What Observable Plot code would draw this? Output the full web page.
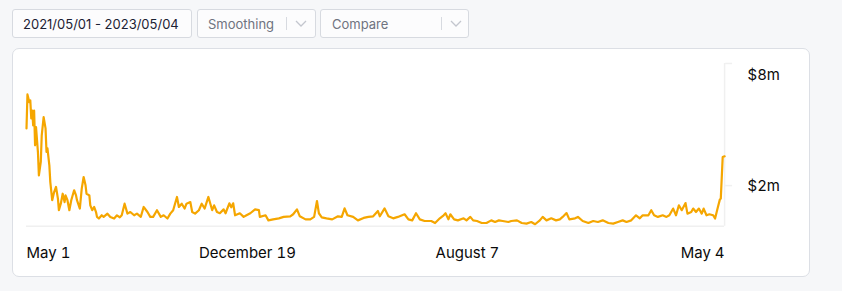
<!DOCTYPE html>
<html>
<head>
<meta charset="utf-8">
<script src="https://cdn.jsdelivr.net/npm/d3@7"></script>
<script src="https://cdn.jsdelivr.net/npm/@observablehq/plot@0.6"></script>
<style>
  html, body { margin: 0; padding: 0; background: #f6f7f9; width: 842px; height: 291px; overflow: hidden;
    font-family: Inter, "Open Sans", sans-serif; }
  .ctl { position: absolute; top: 9px; height: 29px; box-sizing: border-box; border: 1px solid #d7dae0;
    border-radius: 3px; background: #fcfcfd; font-size: 13px; }
  .ctl span.t { position: absolute; top: 50%; transform: translateY(-50%); white-space: nowrap; }
  .sep { position: absolute; top: 7px; width: 1px; height: 13px; background: #d7dae0; }
  .chev { position: absolute; top: 9px; }
  #card { position: absolute; left: 12px; top: 48px; width: 798px; height: 229px; box-sizing: border-box;
    border: 1px solid #dcdfe5; border-radius: 7px; background: #fff; }
  #chart { position: absolute; left: -1px; top: -1px; }
</style>
</head>
<body>
<div class="ctl" style="left:12px;width:180px;"><span class="t" style="left:10px;color:#1b2133;">2021/05/01 - 2023/05/04</span></div>
<div class="ctl" style="left:197px;width:119px;"><span class="t" style="left:10px;color:#6f7380;">Smoothing</span>
  <div class="sep" style="left:88px;"></div>
  <svg class="chev" style="left:97px" width="12" height="9"><polyline points="1,2 6,7 11,2" fill="none" stroke="#c3c6ce" stroke-width="1.3"/></svg>
</div>
<div class="ctl" style="left:320px;width:149px;"><span class="t" style="left:11px;color:#6f7380;">Compare</span>
  <div class="sep" style="left:120px;"></div>
  <svg class="chev" style="left:129px" width="12" height="9"><polyline points="1,2 6,7 11,2" fill="none" stroke="#c3c6ce" stroke-width="1.3"/></svg>
</div>
<div id="card"><div id="chart"></div></div>
<script>
// Series: day offset from start date, and daily revenue in $ millions
const startDate = "2021-05-01";
const dayOffsets = [0,1,3,4,5,6,7,8,9,10,12,13,15,16,18,20,21,22,24,25,27,29,31,33,34,36,38,40,41,43,45,47,50,52,53,56,58,60,62,63,66,67,69,71,73,74,76,79,81,85,88,92,95,98,100,103,106,109,113,116,120,123,127,130,133,137,141,144,148,151,154,158,160,163,166,168,172,174,177,181,184,187,191,195,197,200,203,207,209,213,215,217,219,224,228,231,235,240,244,245,251,254,259,265,270,277,280,284,287,293,298,302,305,307,310,315,321,327,331,334,337,343,348,354,359,364,369,371,376,380,385,390,397,401,405,409,413,418,425,429,434,438,440,443,445,449,453,459,462,466,469,473,478,483,488,492,496,500,506,509,515,520,525,530,534,539,542,546,551,556,560,563,567,570,576,579,584,590,595,600,605,611,616,621,626,630,635,640,644,647,653,656,659,663,668,672,675,679,682,685,688,692,694,698,700,703,706,709,711,714,717,721,723,726,728,729,731,733];
const revenue = [4.81,6.48,6.10,6.18,5.30,5.69,4.96,5.69,3.98,4.87,3.65,2.50,3.16,4.47,5.36,4.81,3.65,3.83,2.99,2.17,1.28,1.68,1.93,1.36,0.79,1.11,1.60,1.19,1.52,1.28,0.79,1.28,1.77,1.52,1.28,0.87,1.85,2.42,2.01,1.60,1.52,1.03,0.79,0.95,0.70,0.46,0.38,0.54,0.46,0.62,0.46,0.38,0.54,0.44,0.54,1.11,0.62,0.70,0.54,0.62,0.46,0.95,0.70,0.46,0.46,0.79,0.46,0.54,0.38,0.62,0.79,1.44,0.95,1.11,0.87,1.11,1.19,0.70,0.62,0.79,1.11,0.87,1.44,0.79,1.03,0.70,0.64,0.83,0.64,1.13,0.93,1.13,0.54,0.64,0.46,0.54,0.64,0.83,0.79,0.46,0.54,0.29,0.34,0.39,0.46,0.49,0.59,0.83,0.49,0.34,0.34,0.46,1.24,0.64,0.44,0.39,0.34,0.49,0.46,0.88,0.54,0.46,0.29,0.41,0.46,0.49,0.75,0.49,0.88,0.49,0.39,0.46,0.59,0.34,0.29,0.64,0.34,0.26,0.26,0.16,0.39,0.54,0.64,0.34,0.59,0.34,0.29,0.39,0.29,0.46,0.29,0.26,0.16,0.16,0.29,0.21,0.29,0.26,0.21,0.26,0.29,0.16,0.13,0.21,0.10,0.29,0.46,0.29,0.39,0.29,0.34,0.46,0.65,0.34,0.39,0.46,0.26,0.16,0.26,0.21,0.29,0.16,0.13,0.21,0.29,0.21,0.29,0.54,0.39,0.54,0.54,0.79,0.54,0.46,0.54,0.46,0.54,0.87,0.54,1.03,0.79,1.14,0.62,0.70,0.87,0.70,0.87,0.62,0.87,0.54,0.59,0.54,0.38,0.95,1.31,1.36,3.40,3.44];

const xTickDates = ["2021-05-01", "2021-12-19", "2022-08-07", "2023-05-04"];
const xTickLabels = ["May 1", "December 19", "August 7", "May 4"];
const yTicks = [2, 8];
const yDomain = [0, 8];

const day = 864e5;
const start = new Date(startDate + "T00:00:00Z");
const data = dayOffsets.map((d, i) => ({date: new Date(+start + d * day), value: revenue[i]}));
const tDates = xTickDates.map(s => new Date(s + "T00:00:00Z"));
const labelOf = new Map(tDates.map((d, i) => [+d, xTickLabels[i]]));
const fmtX = d => labelOf.get(+d);
const fmtY = d => "$" + d + "m";
const grey = "#f0f0f0";

const chart = Plot.plot({
  width: 798,
  height: 229,
  marginLeft: 14,
  marginRight: 85,
  marginTop: 15,
  marginBottom: 51,
  style: {fontFamily: "Inter, 'Open Sans', sans-serif", fontSize: "15px", color: "#0b0b0b", background: "transparent", overflow: "visible"},
  x: {type: "utc", domain: [tDates[0], tDates[3]], label: null},
  y: {domain: yDomain, label: null},
  marks: [
    Plot.ruleY([yDomain[0]], {stroke: grey, strokeWidth: 1.5}),
    Plot.ruleX([tDates[3]], {stroke: grey, strokeWidth: 1.5}),
    Plot.axisX([tDates[0]], {tickSize: 0, tickPadding: 21, textAnchor: "start", tickFormat: fmtX, label: null, fontSize: 15}),
    Plot.axisX(tDates.slice(1, 3), {tickSize: 0, tickPadding: 21, textAnchor: "middle", tickFormat: fmtX, label: null, fontSize: 15}),
    Plot.axisX([tDates[3]], {tickSize: 0, tickPadding: 21, textAnchor: "end", tickFormat: fmtX, label: null, fontSize: 15}),
    Plot.axisY(yTicks, {anchor: "right", tickSize: 7, stroke: grey, strokeWidth: 1.5, fill: "none", label: null}),
    Plot.axisY([yTicks[0]], {anchor: "right", tickSize: 0, tickPadding: 23, tickFormat: fmtY, dy: 1, label: null, fontSize: 15}),
    Plot.axisY([yTicks[1]], {anchor: "right", tickSize: 0, tickPadding: 23, tickFormat: fmtY, dy: 12, label: null, fontSize: 15}),
    Plot.lineY(data, {x: "date", y: "value", stroke: "#f5a600", strokeWidth: 2.2, strokeLinejoin: "round"})
  ]
});
document.getElementById("chart").appendChild(chart);
</script>
</body>
</html>
